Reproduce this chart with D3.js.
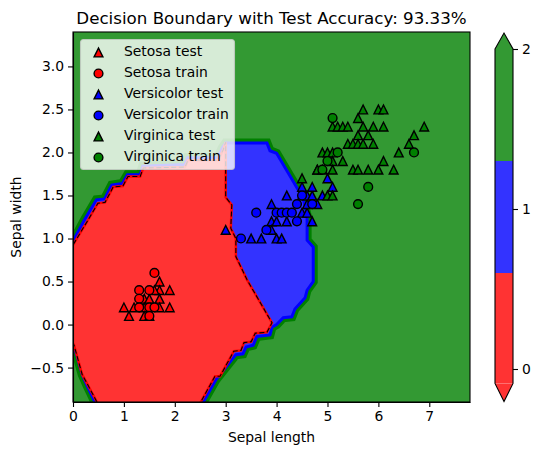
<!DOCTYPE html>
<html>
<head>
<meta charset="utf-8">
<script src="https://cdn.jsdelivr.net/npm/d3@7"></script>
<style>
  body { margin: 0; background: #fff; }
  text { font-family: "DejaVu Sans", sans-serif; fill: #000; }
  .tick text { font-size: 13.9px; }
</style>
</head>
<body>
<script>
const width = 541
const height = 455

/* Points, as [x, y] in data units. */
const setosaTest = [[1.7,0.5],[1.7,0.4],[1.9,0.4],[1.6,0.4],[1.4,0.3],[1.5,0.3],[1.7,0.3],[1.0,0.2],[1.2,0.2],[1.4,0.2],[1.7,0.2],[1.9,0.2],[1.1,0.1],[1.4,0.1],[1.5,0.1]]
const setosaTrain = [[1.6,0.6],[1.3,0.4],[1.5,0.4],[1.3,0.3],[1.3,0.2],[1.5,0.2],[1.6,0.2],[1.5,0.1]]
const versicolorTest = [[3.0,1.1],[3.5,1.0],[3.7,1.0],[4.0,1.0],[4.1,1.0],[3.9,1.4],[4.2,1.5],[3.9,1.2],[4.0,1.2],[4.2,1.2],[3.9,1.1],[4.7,1.2],[4.5,1.3],[4.6,1.3],[4.6,1.4],[4.8,1.4],[4.5,1.5],[4.6,1.5],[4.7,1.5],[4.9,1.5],[4.5,1.6],[4.7,1.6],[5.1,1.6],[5.0,1.7],[4.8,1.8]]
const versicolorTrain = [[3.6,1.3],[3.8,1.1],[3.3,1.0],[4.0,1.3],[4.1,1.3],[4.2,1.3],[4.3,1.3],[4.4,1.4],[4.4,1.2],[4.5,1.5],[4.7,1.4]]
const virginicaTest = [[5.7,2.5],[6.0,2.5],[6.1,2.5],[5.6,2.4],[5.1,2.3],[5.2,2.3],[5.3,2.3],[5.4,2.3],[5.7,2.3],[5.9,2.3],[6.1,2.3],[6.9,2.3],[5.6,2.2],[5.8,2.2],[6.7,2.2],[5.4,2.1],[5.5,2.1],[5.6,2.1],[5.7,2.1],[5.9,2.1],[6.6,2.1],[4.9,2.0],[5.0,2.0],[5.1,2.0],[6.4,2.0],[5.1,1.9],[5.3,1.9],[6.1,1.9],[4.8,1.8],[4.9,1.8],[5.1,1.8],[5.5,1.8],[5.6,1.8],[5.8,1.8],[6.0,1.8],[6.3,1.8],[4.5,1.7],[5.0,1.5],[5.1,1.5]]
const virginicaTrain = [[5.1,2.4],[5.2,2.0],[6.7,2.0],[5.0,1.9],[4.9,1.8],[5.8,1.6],[5.6,1.4]]

/* Outline of the setosa region, running past the plot edges so the clip hides its closing side. */
const redBoundary = [[-0.2,0.7],[0,0.925],[0.27,1.19],[0.49,1.41],[0.63,1.42],[0.79,1.6],[0.98,1.61],[1.08,1.72],[1.32,1.72],[1.38,1.82],[2.2,1.83],[2.26,1.91],[2.85,1.91],[2.95,2.03],[3.0,2.12],[3.0,1.48],[3.12,1.39],[3.1,1.12],[3.2,1.0],[3.2,0.79],[3.42,0.52],[3.91,0.02],[3.81,-0.09],[3.58,-0.1],[3.5,-0.2],[3.36,-0.21],[3.3,-0.3],[3.16,-0.31],[2.89,-0.6],[2.79,-0.6],[2.51,-0.9],[2.4,-1.05],[0.6,-1.05],[0.47,-0.9],[0.29,-0.7],[0.18,-0.58],[0.1,-0.41],[0.02,-0.24],[0,-0.22],[-0.2,-0.45]]
/* Outline of setosa and versicolor together, same idea. */
const outerBoundary = [[-0.2,0.75],[0,0.97],[0.23,1.22],[0.46,1.45],[0.62,1.46],[0.76,1.62],[0.97,1.64],[1.07,1.74],[1.32,1.74],[1.37,1.84],[2.2,1.86],[2.25,1.94],[2.85,1.94],[2.93,2.05],[3,2.11],[3.81,2.11],[3.87,2.02],[4.0,1.99],[4.38,1.61],[4.52,1.47],[4.6,1.27],[4.6,0.98],[4.72,0.9],[4.72,0.5],[4.6,0.4],[4.56,0.31],[4.36,0.18],[4.3,0.09],[4.13,0.08],[4.0,0],[3.91,-0.03],[3.87,-0.12],[3.61,-0.14],[3.54,-0.24],[3.4,-0.26],[3.34,-0.34],[3.2,-0.35],[2.81,-0.64],[2.56,-0.9],[2.45,-1.05],[0.55,-1.05],[0.43,-0.9],[0.27,-0.7],[0.18,-0.58],[0.1,-0.41],[0.02,-0.25],[-0.2,-0.47]]

const xTicks = [0,1,2,3,4,5,6,7]
const yTicks = [-0.5,0,0.5,1,1.5,2,2.5,3]
const barLevels = [-0.09,0.6,1.3,2]
const barTicks = [0,1,2]
const legendLabels = ["Setosa test","Setosa train","Versicolor test","Versicolor train","Virginica test","Virginica train"]

const fillRed = "#ff3333", fillBlue = "#3333ff", fillGreen = "#339933"
const barColors = [fillRed, fillBlue, fillGreen]

const svg = d3.select("body")
  .append("svg")
  .attr("width", width)
  .attr("height", height)
  .style("display", "block")

/* Plot area in pixels. */
const plotLeft = 73, plotRight = 470, plotTop = 32, plotBottom = 402

const x = d3.scaleLinear().domain([0, 7.8]).range([plotLeft, plotRight])
const y = d3.scaleLinear().domain([-0.9, 3.4]).range([plotBottom, plotTop])
const outline = d3.line().x(d => x(d[0])).y(d => y(d[1]))

svg.append("clipPath").attr("id", "plot")
  .append("rect")
  .attr("x", plotLeft).attr("y", plotTop)
  .attr("width", plotRight - plotLeft).attr("height", plotBottom - plotTop)

const regions = svg.append("g").attr("clip-path", "url(#plot)")

regions.append("rect")
  .attr("x", plotLeft).attr("y", plotTop)
  .attr("width", plotRight - plotLeft).attr("height", plotBottom - plotTop)
  .attr("fill", fillGreen)

/* Darker green edge, then blue region with its pure blue edge. */
regions.append("path")
  .attr("d", outline(outerBoundary) + "Z")
  .attr("fill", "none").attr("stroke", "#008000").attr("stroke-width", 9)
regions.append("path")
  .attr("d", outline(outerBoundary) + "Z")
  .attr("fill", fillBlue).attr("stroke", "#0000ff").attr("stroke-width", 3)

/* Red region, its edge and the dashed contour on top. */
regions.append("path")
  .attr("d", outline(redBoundary) + "Z")
  .attr("fill", fillRed).attr("stroke", "#ff0000").attr("stroke-width", 2.5)
regions.append("path")
  .attr("d", outline(redBoundary))
  .attr("fill", "none").attr("stroke", "#000").attr("stroke-width", 1.1)
  .attr("stroke-dasharray", "5,2.5")

const r = 4.4
const triangle = `M0,${-r}L${r},${r}L${-r},${r}Z`

function drawPoints(data, color, shape) {
  const g = svg.append("g").attr("fill", color).attr("stroke", "#000").attr("stroke-width", 1.4)
  if (shape === "triangle") {
    g.selectAll("path").data(data).enter().append("path")
      .attr("d", triangle)
      .attr("transform", d => `translate(${x(d[0])},${y(d[1])})`)
  } else {
    g.selectAll("circle").data(data).enter().append("circle")
      .attr("cx", d => x(d[0])).attr("cy", d => y(d[1])).attr("r", r)
  }
}

drawPoints(setosaTest, "#ff0000", "triangle")
drawPoints(setosaTrain, "#ff0000", "circle")
drawPoints(versicolorTest, "#0000ff", "triangle")
drawPoints(versicolorTrain, "#0000ff", "circle")
drawPoints(virginicaTest, "#008000", "triangle")
drawPoints(virginicaTrain, "#008000", "circle")

/* Axes. */
function styleAxis(g) {
  g.selectAll("path").attr("stroke-width", 1.1)
  g.selectAll("line").attr("stroke-width", 1.1)
}
const xAxis = svg.append("g").attr("transform", `translate(0,${plotBottom})`)
  .call(d3.axisBottom(x).tickValues(xTicks).tickFormat(d3.format("d")).tickSize(5).tickSizeOuter(0).tickPadding(4))
xAxis.call(styleAxis)
const yAxis = svg.append("g").attr("transform", `translate(${plotLeft},0)`)
  .call(d3.axisLeft(y).tickValues(yTicks).tickFormat(d => d3.format(".1f")(d).replace("-", "\u2212")).tickSize(5).tickSizeOuter(0).tickPadding(4))
yAxis.call(styleAxis)

svg.append("rect")
  .attr("x", plotLeft).attr("y", plotTop)
  .attr("width", plotRight - plotLeft).attr("height", plotBottom - plotTop)
  .attr("fill", "none").attr("stroke", "#000").attr("stroke-width", 1.1)

/* Legend sits above the axes frame, as in matplotlib. */
const legend = svg.append("g")
legend.append("rect")
  .attr("x", 80.5).attr("y", 39.5).attr("width", 154).attr("height", 130).attr("rx", 3)
  .attr("fill", "#fff").attr("fill-opacity", 0.8)
  .attr("stroke", "#ccc").attr("stroke-opacity", 0.8).attr("stroke-width", 1.1)
const legendColors = ["#ff0000","#ff0000","#0000ff","#0000ff","#008000","#008000"]
legendLabels.forEach((label, i) => {
  const rowY = 52.5 + i * 21
  if (i % 2 === 0) {
    legend.append("path").attr("d", triangle)
      .attr("transform", `translate(98.5,${rowY})`)
      .attr("fill", legendColors[i]).attr("stroke", "#000").attr("stroke-width", 1.4)
  } else {
    legend.append("circle").attr("cx", 98.5).attr("cy", rowY).attr("r", r)
      .attr("fill", legendColors[i]).attr("stroke", "#000").attr("stroke-width", 1.4)
  }
  legend.append("text").attr("x", 124).attr("y", rowY + 3.5)
    .attr("font-size", 13.9).text(label)
})

/* Colorbar. */
const barLeft = 495, barRight = 513, tip = 16
const barY = d3.scaleLinear().domain([0, 2]).range([369, 49])
d3.pairs(barLevels).forEach((pair, i) => {
  svg.append("rect")
    .attr("x", barLeft).attr("y", barY(pair[1]))
    .attr("width", barRight - barLeft).attr("height", barY(pair[0]) - barY(pair[1]))
    .attr("fill", barColors[i])
})
const barTop = barY(barLevels[3]), barBottom = barY(barLevels[0]), barMid = (barLeft + barRight) / 2
svg.append("path")
  .attr("d", `M${barLeft},${barTop}L${barMid},${barTop - tip}L${barRight},${barTop}Z`)
  .attr("fill", fillGreen)
svg.append("path")
  .attr("d", `M${barLeft},${barBottom}L${barMid},${barBottom + tip + 2}L${barRight},${barBottom}Z`)
  .attr("fill", fillRed)
svg.append("path")
  .attr("d", `M${barLeft},${barTop}L${barMid},${barTop - tip}L${barRight},${barTop}L${barRight},${barBottom}L${barMid},${barBottom + tip + 2}L${barLeft},${barBottom}Z`)
  .attr("fill", "none").attr("stroke", "#000").attr("stroke-width", 1.1)
const barAxis = svg.append("g").attr("transform", `translate(${barRight},0)`)
  .call(d3.axisRight(barY).tickValues(barTicks).tickFormat(d3.format("d")).tickSize(5).tickSizeOuter(0).tickPadding(4))
barAxis.select(".domain").remove()
barAxis.call(styleAxis)

/* Titles. */
svg.append("text").attr("x", 271.5).attr("y", 24)
  .attr("text-anchor", "middle").attr("font-size", 16.7)
  .text("Decision Boundary with Test Accuracy: 93.33%")
svg.append("text").attr("x", 271.5).attr("y", 442)
  .attr("text-anchor", "middle").attr("font-size", 13.9)
  .text("Sepal length")
svg.append("text").attr("transform", "translate(21,217) rotate(-90)")
  .attr("text-anchor", "middle").attr("font-size", 13.9)
  .text("Sepal width")
</script>
</body>
</html>
